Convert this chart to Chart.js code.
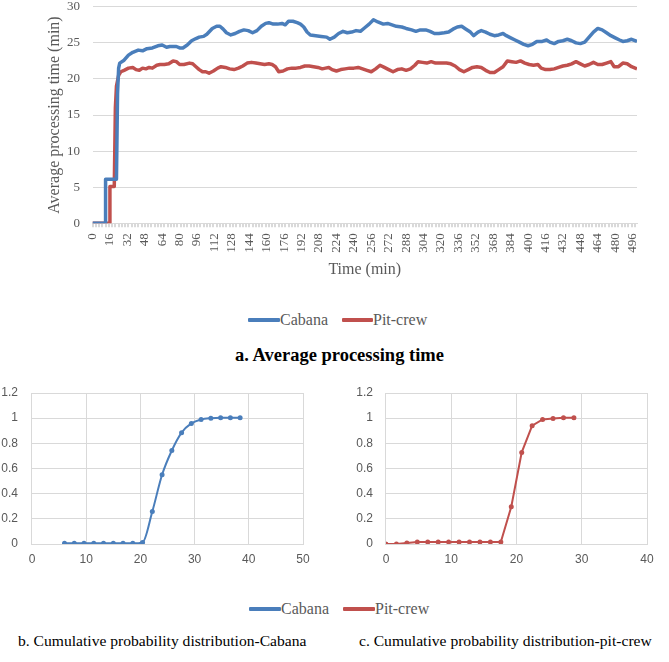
<!DOCTYPE html>
<html>
<head>
<meta charset="utf-8">
<script src="https://cdn.jsdelivr.net/npm/chart.js@4.4.1/dist/chart.umd.min.js"></script>
<style>
  html, body { margin:0; padding:0; background:#fff; }
  #page { position:relative; width:669px; height:662px; overflow:hidden; background:#fff; }
  .wrap { position:absolute; }
  .legend { position:absolute; left:0; width:669px; height:20px; font-family:"Liberation Serif", serif; font-size:16px; color:#595959; }
  .legend .sw { position:absolute; height:4px; border-radius:1px; }
  .legend .tx { position:absolute; line-height:20px; top:0; }
  .cap { position:absolute; font-family:"Liberation Serif", serif; color:#000; white-space:nowrap; }
</style>
</head>
<body>
<div id="page">
  <div class="wrap" style="left:0;top:0;width:669px;height:282px;"><canvas id="cTop"></canvas></div>

  <div class="legend" style="top:310px;">
    <div class="sw" style="left:248px;top:8px;width:32px;background:#4a7ebb;"></div>
    <div class="tx" style="left:280px;">Cabana</div>
    <div class="sw" style="left:342px;top:8px;width:31px;background:#c0504d;"></div>
    <div class="tx" style="left:373px;">Pit-crew</div>
  </div>
  <div class="cap" style="left:0;width:679px;top:345px;text-align:center;font-weight:bold;font-size:18.5px;">a. Average processing time</div>

  <div class="wrap" style="left:0;top:380px;width:340px;height:196px;"><canvas id="cLeft"></canvas></div>
  <div class="wrap" style="left:335px;top:380px;width:334px;height:196px;"><canvas id="cRight"></canvas></div>

  <div class="legend" style="top:599px;">
    <div class="sw" style="left:249px;top:8px;width:32px;background:#4a7ebb;"></div>
    <div class="tx" style="left:281px;">Cabana</div>
    <div class="sw" style="left:343px;top:8px;width:32px;background:#c0504d;"></div>
    <div class="tx" style="left:375px;">Pit-crew</div>
  </div>
  <div class="cap" style="left:18px;top:632px;font-size:15.6px;">b. Cumulative probability distribution-Cabana</div>
  <div class="cap" style="left:359px;top:632px;font-size:15.6px;">c. Cumulative probability distribution-pit-crew</div>
</div>

<script>
// ---------- data: (a) average processing time ----------
const seriesNames = ['Cabana', 'Pit-crew'];
const cabanaTime = [0, 12, 12, 22, 23, 24, 25, 29, 33, 37, 42, 46, 50, 55, 60, 64, 68, 71, 77, 80, 83, 87, 91, 95, 98, 102, 105, 110, 114, 117, 120, 123, 127, 131, 135, 139, 143, 147, 151, 155, 159, 162, 166, 170, 174, 177, 180, 184, 188, 191, 194, 197, 200, 205, 210, 215, 218, 222, 226, 230, 234, 238, 242, 246, 250, 254, 258, 262, 267, 271, 275, 279, 284, 288, 293, 297, 301, 306, 310, 314, 318, 323, 327, 331, 335, 339, 343, 347, 350, 354, 357, 361, 365, 369, 373, 377, 380, 384, 388, 392, 396, 400, 404, 408, 413, 417, 420, 424, 428, 432, 436, 440, 444, 448, 452, 456, 460, 464, 468, 472, 476, 480, 484, 487, 491, 495, 500];
const cabanaAvg = [0, 0, 6.1, 6.1, 18, 21.5, 22.2, 22.6, 23.3, 23.7, 24.0, 23.9, 24.2, 24.3, 24.6, 24.7, 24.4, 24.5, 24.5, 24.3, 24.3, 24.7, 25.3, 25.6, 25.8, 25.9, 26.2, 27.0, 27.3, 27.3, 26.9, 26.4, 26.1, 26.3, 26.6, 26.8, 26.7, 26.4, 26.7, 27.3, 27.7, 27.8, 27.6, 27.6, 27.7, 27.5, 28.0, 28.0, 27.8, 27.6, 27.2, 26.5, 26.1, 26.0, 25.9, 25.8, 25.5, 25.8, 26.3, 26.6, 26.4, 26.5, 26.7, 26.6, 27.1, 27.6, 28.2, 27.9, 27.6, 27.7, 27.5, 27.3, 27.2, 27.0, 26.8, 26.6, 26.8, 26.8, 26.6, 26.3, 26.3, 26.4, 26.5, 26.9, 27.2, 27.3, 26.9, 26.5, 26.0, 26.5, 26.7, 26.5, 26.2, 26.0, 26.1, 26.3, 26.0, 25.7, 25.4, 25.1, 24.8, 24.6, 24.8, 25.2, 25.2, 25.4, 25.1, 24.9, 25.2, 25.3, 25.5, 25.3, 25.0, 24.9, 25.1, 25.8, 26.5, 27.0, 26.8, 26.4, 26.0, 25.7, 25.4, 25.2, 25.3, 25.5, 25.2];
const pitTime = [0, 16, 16, 20, 21, 22, 24, 26, 29, 33, 37, 40, 43, 46, 49, 52, 55, 59, 62, 66, 70, 74, 77, 80, 84, 89, 92, 95, 98, 101, 104, 107, 111, 115, 118, 122, 126, 130, 134, 138, 142, 146, 150, 154, 158, 162, 165, 168, 171, 175, 179, 183, 187, 191, 195, 199, 203, 207, 211, 214, 217, 220, 224, 228, 232, 236, 240, 244, 248, 252, 256, 260, 264, 268, 272, 276, 280, 284, 288, 292, 296, 299, 303, 307, 311, 315, 320, 325, 329, 333, 337, 341, 345, 349, 353, 357, 361, 365, 369, 373, 377, 381, 385, 389, 393, 397, 401, 405, 409, 412, 416, 420, 424, 428, 432, 436, 440, 444, 448, 452, 456, 460, 464, 468, 472, 476, 479, 483, 487, 491, 495, 500];
const pitAvg = [0, 0, 5.1, 5.1, 16, 19, 20.5, 21.0, 21.2, 21.5, 21.6, 21.3, 21.2, 21.5, 21.4, 21.6, 21.5, 21.9, 22.0, 22.0, 22.1, 22.5, 22.4, 22.0, 22.0, 22.2, 22.1, 21.7, 21.3, 21.0, 21.0, 20.8, 21.1, 21.5, 21.7, 21.6, 21.4, 21.3, 21.5, 21.8, 22.2, 22.3, 22.2, 22.1, 22.0, 22.1, 22.0, 21.7, 21.0, 21.1, 21.4, 21.5, 21.5, 21.6, 21.8, 21.8, 21.7, 21.6, 21.4, 21.5, 21.6, 21.3, 21.1, 21.3, 21.4, 21.5, 21.5, 21.6, 21.4, 21.2, 21.0, 21.4, 21.9, 21.6, 21.3, 21.0, 21.3, 21.4, 21.2, 21.4, 21.9, 22.4, 22.3, 22.2, 22.4, 22.2, 22.2, 22.2, 22.1, 21.8, 21.3, 21.0, 21.3, 21.6, 21.7, 21.6, 21.2, 20.9, 20.9, 21.3, 21.7, 22.5, 22.4, 22.3, 22.5, 22.2, 22.0, 21.9, 22.0, 21.5, 21.3, 21.3, 21.4, 21.6, 21.8, 21.9, 22.1, 22.4, 22.1, 21.8, 22.0, 22.3, 22.0, 22.0, 22.2, 22.4, 21.7, 21.7, 22.2, 22.1, 21.7, 21.4];

// ---------- data: (b) and (c) cumulative probability ----------
const cabanaCdfX = [6, 7.8, 9.6, 11.4, 13.2, 15, 16.8, 18.6, 20.4, 22.2, 24, 25.8, 27.6, 29.4, 31.2, 33, 34.8, 36.6, 38.4];
const cabanaCdfY = [0.005, 0.005, 0.005, 0.005, 0.005, 0.005, 0.005, 0.005, 0.012, 0.258, 0.55, 0.743, 0.885, 0.958, 0.99, 1.0, 1.003, 1.003, 1.003];
const pitCdfX = [0, 1.6, 3.2, 4.8, 6.4, 8, 9.6, 11.2, 12.8, 14.4, 16, 17.6, 19.2, 20.8, 22.4, 24, 25.6, 27.2, 28.8];
const pitCdfY = [0, 0, 0.008, 0.015, 0.015, 0.015, 0.015, 0.015, 0.015, 0.015, 0.015, 0.015, 0.296, 0.728, 0.94, 0.99, 0.998, 1.003, 1.003];

// tick settings
const topYTicks = { min: 0, max: 30, step: 5 };
const topXTicks = { min: 0, max: 500, step: 16 };
const cdfYTicks = { min: 0, max: 1.2, step: 0.2 };
const cabanaXTicks = { min: 0, max: 50, step: 10 };
const pitXTicks = { min: 0, max: 40, step: 10 };

const BLUE = '#4a7ebb', RED = '#c0504d', GRID = '#d9d9d9', TXT = '#595959';
const pts = (xs, ys) => xs.map((x, i) => ({ x: x, y: ys[i] }));

Chart.defaults.animation = false;
Chart.defaults.plugins.tooltip.enabled = false;
Chart.defaults.plugins.legend.display = false;

// ---------- chart a ----------
const serif = { family: 'Liberation Serif', size: 13 };
new Chart(document.getElementById('cTop'), {
  type: 'line',
  data: {
    datasets: [
      { label: seriesNames[0], data: pts(cabanaTime, cabanaAvg), borderColor: BLUE, borderWidth: 3.5, pointRadius: 0, tension: 0, borderJoinStyle: 'round' },
      { label: seriesNames[1], data: pts(pitTime, pitAvg), borderColor: RED, borderWidth: 3.5, pointRadius: 0, tension: 0, borderJoinStyle: 'round' }
    ]
  },
  options: {
    responsive: true, maintainAspectRatio: false,
    layout: { autoPadding: false, padding: { left: 41.4, right: 32, top: 0, bottom: 3 } },
    scales: {
      x: {
        type: 'linear', position: 'bottom', weight: 1,
        min: topXTicks.min, max: topXTicks.max,
        ticks: { stepSize: topXTicks.step, includeBounds: false, autoSkip: false, maxRotation: 90, minRotation: 90, color: TXT, font: serif, padding: 6 },
        grid: { display: false, drawTicks: false },
        border: { display: false },
        title: { display: true, text: 'Time (min)', color: TXT, font: { family: 'Liberation Serif', size: 16 }, padding: { top: 1, bottom: 0 } }
      },
      x2: {
        type: 'linear', position: 'bottom', weight: 0,
        min: topXTicks.min, max: topXTicks.max,
        ticks: { display: false, stepSize: 3, includeBounds: false, autoSkip: false },
        grid: { drawOnChartArea: false, drawTicks: true, tickLength: 4, color: GRID, lineWidth: 2 },
        border: { display: true, color: GRID, width: 1 }
      },
      y: {
        min: topYTicks.min, max: topYTicks.max,
        ticks: { stepSize: topYTicks.step, color: TXT, font: { family: 'Liberation Serif', size: 13, lineHeight: 0.585 }, padding: 3 },
        grid: { color: GRID, drawTicks: true, tickLength: 9.5, tickColor: 'rgba(0,0,0,0)' },
        border: { display: false },
        title: { display: true, text: 'Average processing time (min)', color: TXT, font: { family: 'Liberation Serif', size: 16 }, padding: { top: 4, bottom: -0.6 } }
      }
    }
  }
});

// ---------- charts b, c ----------
function cdfChart(id, xs, ys, color, xt, pad, smooth, tickLen) {
  const sans = { family: 'Liberation Sans', size: 12 };
  return new Chart(document.getElementById(id), {
    type: 'line',
    data: { datasets: [{ data: pts(xs, ys), borderColor: color, backgroundColor: color, borderWidth: 2, pointRadius: 2.5, pointBorderWidth: 0, pointBackgroundColor: color, tension: smooth, cubicInterpolationMode: smooth ? 'monotone' : 'default' }] },
    options: {
      responsive: true, maintainAspectRatio: false,
      layout: { autoPadding: false, padding: pad },
      scales: {
        x: {
          type: 'linear', min: xt.min, max: xt.max,
          ticks: { stepSize: xt.step, color: TXT, font: sans, padding: 8, maxRotation: 0 },
          grid: { color: GRID, drawTicks: false },
          border: { color: GRID }
        },
        y: {
          min: cdfYTicks.min, max: cdfYTicks.max,
          ticks: { stepSize: cdfYTicks.step, color: TXT, font: sans, padding: 3,
                   callback: v => String(Math.round(v * 10) / 10) },
          grid: { color: GRID, drawTicks: true, tickLength: tickLen, tickColor: 'rgba(0,0,0,0)' },
          border: { color: GRID }
        }
      }
    }
  });
}
cdfChart('cLeft', cabanaCdfX, cabanaCdfY, BLUE, cabanaXTicks, { left: -1.7, right: 37, top: 13, bottom: 1.6 }, 0.4, 11);
cdfChart('cRight', pitCdfX, pitCdfY, RED, pitXTicks, { left: 18.3, right: 22, top: 13, bottom: 1.6 }, 0, 10);
</script>
</body>
</html>
